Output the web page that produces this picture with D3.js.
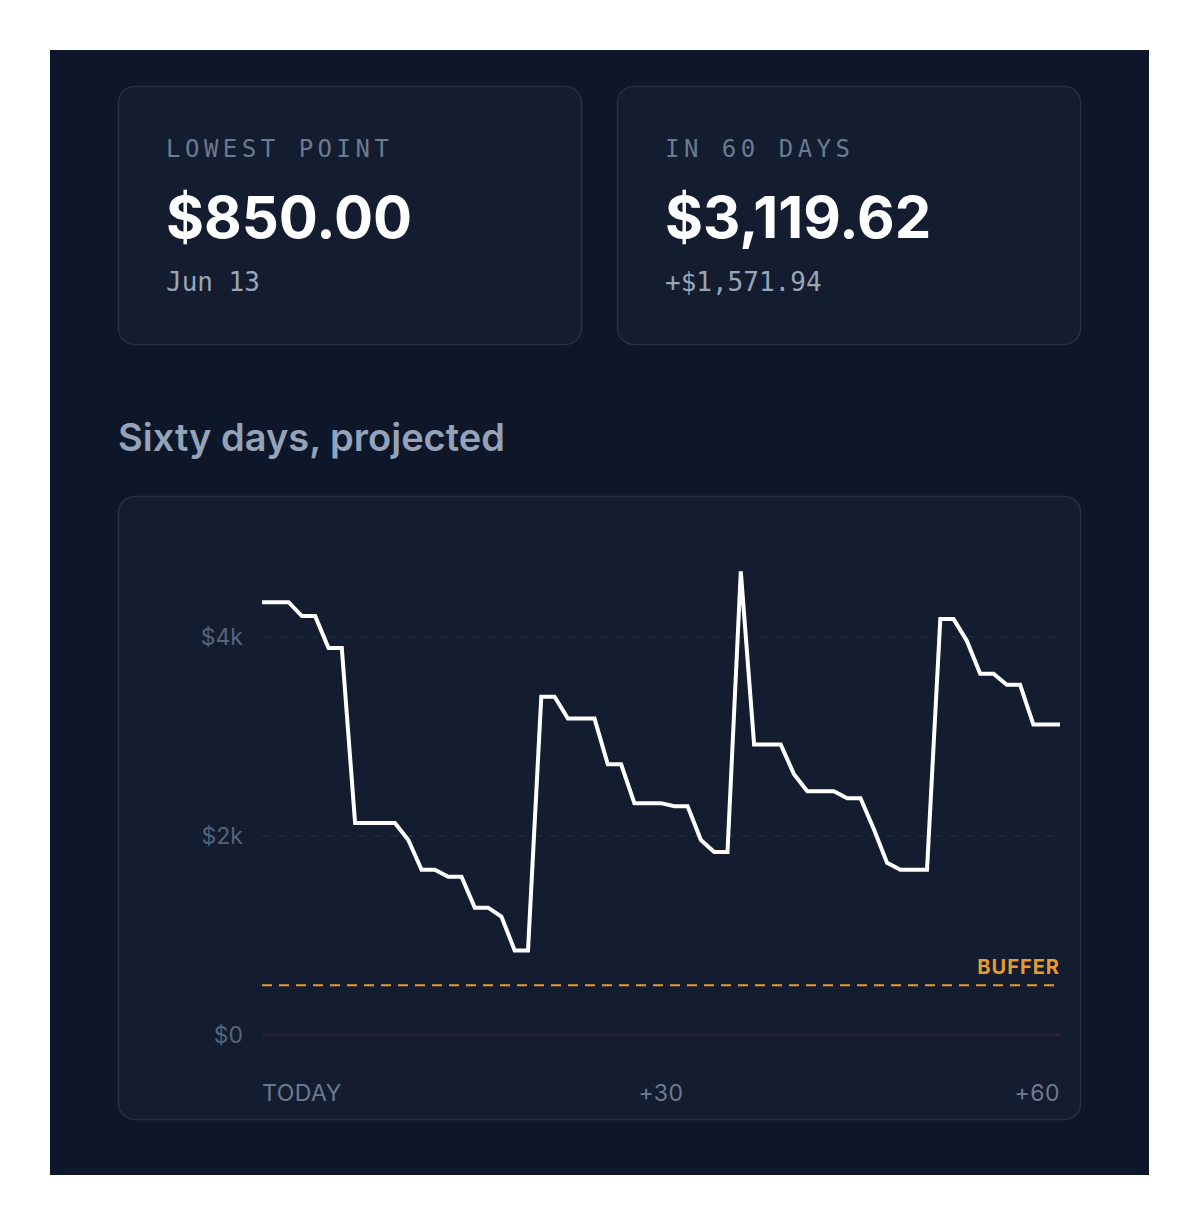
<!DOCTYPE html>
<html><head><meta charset="utf-8">
<script src="https://cdn.jsdelivr.net/npm/d3@7"></script>
<style>body{margin:0;background:#fff}</style>
</head><body>
<svg id="c" width="1199" height="1226"></svg>
<script>
// projected balance per day, day 0 = today
balance = [4350,4350,4350,4210,4210,3890,3890,2130,2130,2130,2130,1960,1660,1660,1590,1590,1280,1280,1190,850,850,
  3400,3400,3180,3180,3180,2720,2720,2330,2330,2330,2300,2300,1960,1840,1840,4660,2920,2920,2920,2620,2450,2450,2450,
  2380,2380,2070,1730,1660,1660,1660,4180,4180,3960,3630,3630,3520,3520,3120,3120,3120];
yTicks = [0, 2000, 4000];
xTicks = [0, 30, 60];
xTickLabels = ['TODAY', '+30', '+60'];
buffer = 500;
cards = [
  {label: 'LOWEST POINT', value: '$850.00', sub: 'Jun 13'},
  {label: 'IN 60 DAYS', value: '$3,119.62', sub: '+$1,571.94'}
];

svg = d3.select('#c');
mono = 'DejaVu Sans Mono, monospace';
sans = 'Inter, Noto Sans, sans-serif';

svg.append('rect').attr('x', 50).attr('y', 50).attr('width', 1099).attr('height', 1125).attr('fill', '#0e172a');

cardG = svg.selectAll('g.card').data(cards).enter().append('g')
  .attr('transform', function(d, i) { return 'translate(' + (118 + i * 499) + ',86)'; });
cardG.append('rect').attr('x', 0.5).attr('y', 0.5).attr('width', 463).attr('height', 258).attr('rx', 16)
  .attr('fill', '#131d2f').attr('stroke', '#243044').attr('stroke-width', 1.5);
cardG.append('text').attr('x', 48).attr('y', 71).text(function(d) { return d.label; })
  .attr('font-family', mono).attr('font-size', 24).attr('letter-spacing', 4.5).attr('fill', '#6b7a90');
cardG.append('text').attr('x', 48).attr('y', 152).text(function(d) { return d.value; })
  .attr('font-family', sans).attr('font-weight', 700).attr('font-size', 58).attr('fill', '#fff');
cardG.append('text').attr('x', 48).attr('y', 205).text(function(d) { return d.sub; })
  .attr('font-family', mono).attr('font-size', 26).attr('fill', '#9aa6b8');

svg.append('text').attr('x', 118).attr('y', 451).text('Sixty days, projected')
  .attr('font-family', sans).attr('font-weight', 600).attr('font-size', 38).attr('fill', '#94a3b8');

svg.append('rect').attr('x', 118.5).attr('y', 496.5).attr('width', 962).attr('height', 623).attr('rx', 16)
  .attr('fill', '#131d2f').attr('stroke', '#243044').attr('stroke-width', 1.5);

x = d3.scaleLinear().domain([0, 60]).range([262, 1060]);
y = d3.scaleLinear().domain([0, 4000]).range([1035, 637]);

yg = svg.append('g');
yg.selectAll('line').data(yTicks.filter(function(t) { return t > 0; })).enter().append('line')
  .attr('x1', x(0)).attr('x2', x(60)).attr('y1', y).attr('y2', y)
  .attr('stroke', '#253044').attr('stroke-dasharray', '8,8').attr('stroke-width', 1.2);
yg.selectAll('text').data(yTicks).enter().append('text')
  .attr('x', 243).attr('y', function(d) { return y(d) + 8; }).attr('text-anchor', 'end')
  .text(function(d) { return d === 0 ? '$0' : '$' + d / 1000 + 'k'; })
  .attr('font-family', sans).attr('font-size', 23).attr('fill', '#56647a');

svg.append('line').attr('x1', x(0)).attr('x2', x(60)).attr('y1', y(0)).attr('y2', y(0))
  .attr('stroke', '#2a2336').attr('stroke-width', 3);

svg.append('line').attr('x1', x(0)).attr('x2', x(60)).attr('y1', y(buffer)).attr('y2', y(buffer))
  .attr('stroke', '#e59b32').attr('stroke-dasharray', '10,7').attr('stroke-width', 2);
svg.append('text').attr('x', x(60)).attr('y', y(buffer) - 11).attr('text-anchor', 'end').text('BUFFER')
  .attr('font-family', sans).attr('font-weight', 700).attr('font-size', 20).attr('letter-spacing', 1)
  .attr('fill', '#e59b32');

svg.append('path').datum(balance)
  .attr('d', d3.line().x(function(d, i) { return x(i); }).y(function(d) { return y(d); }))
  .attr('fill', 'none').attr('stroke', '#fff').attr('stroke-width', 4).attr('stroke-linejoin', 'miter');

svg.selectAll('text.xt').data(xTicks).enter().append('text')
  .attr('x', x).attr('y', 1101)
  .attr('text-anchor', function(d, i) { return ['start', 'middle', 'end'][i]; })
  .text(function(d, i) { return xTickLabels[i]; })
  .attr('font-family', sans).attr('font-size', 23).attr('letter-spacing', 0.5).attr('fill', '#6b7a90');
</script>
</body></html>
